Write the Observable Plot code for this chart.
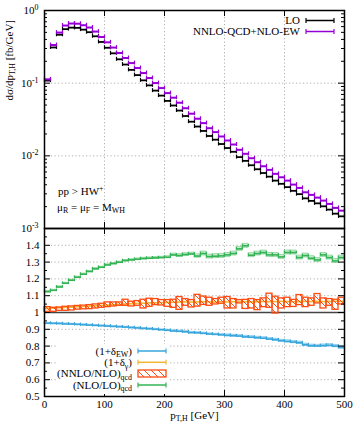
<!DOCTYPE html>
<html><head><meta charset="utf-8">
<script src="https://cdn.jsdelivr.net/npm/d3@7"></script>
<script src="https://cdn.jsdelivr.net/npm/@observablehq/plot@0.6"></script>
<style>
body{margin:0;background:#fff;}
#chart{position:relative;width:355px;height:424px;overflow:hidden;background:#fff;}
#chart svg{position:absolute;left:0;overflow:visible;}
</style></head><body><div id="chart"></div>
<script>
// ---------- data ----------
const binLo = [0,10,20,30,40,50,60,70,80,90,100,110,120,130,140,150,160,170,180,190,200,210,220,230,240,250,260,270,280,290,300,310,320,330,340,350,360,370,380,390,400,410,420,430,440,450,460,470,480,490];
const binHi = [10,20,30,40,50,60,70,80,90,100,110,120,130,140,150,160,170,180,190,200,210,220,230,240,250,260,270,280,290,300,310,320,330,340,350,360,370,380,390,400,410,420,430,440,450,460,470,480,490,500];
const loXs = [0.1085,0.310,0.464,0.554,0.581,0.577,0.545,0.503,0.442,0.369,
 0.307,0.2575,0.213,0.1805,0.1524,0.1292,0.1094,0.0933,0.0790,0.0674,
 0.0570,0.0493,0.0420,0.0353,0.0295,0.0253,0.0220,0.01875,0.01669,0.01454,
 0.0128,0.01137,0.0096,0.00853,0.00742,0.00654,0.0058,0.00517,0.00456,0.00412,
 0.00371,0.0033,0.00297,0.0026,0.0024,0.00222,0.00202,0.00182,0.0016,0.00147];
const nnloXs = [0.1128,0.335,0.497,0.621,0.662,0.658,0.627,0.583,0.513,0.432,
 0.365,0.309,0.260,0.222,0.189,0.1615,0.1378,0.1176,0.1003,0.0856,
 0.0730,0.0631,0.0538,0.0452,0.0380,0.0324,0.0282,0.0240,0.0212,0.01846,
 0.01626,0.01432,0.01210,0.01066,0.00927,0.00817,0.00719,0.00641,0.00565,0.00507,
 0.00456,0.00402,0.00362,0.00315,0.00290,0.00266,0.00242,0.00218,0.00192,0.00176];
const nloLo = [1.124,1.132,1.152,1.174,1.192,1.210,1.228,1.244,1.260,1.269,
 1.283,1.291,1.299,1.309,1.313,1.317,1.321,1.323,1.325,1.327,
 1.329,1.343,1.339,1.345,1.349,1.336,1.351,1.333,1.335,1.337,
 1.343,1.351,1.379,1.397,1.341,1.351,1.357,1.343,1.343,1.331,
 1.357,1.357,1.327,1.339,1.323,1.313,1.343,1.327,1.307,1.327];
const nloLoErr = [0.004,0.004,0.004,0.004,0.004,0.004,0.004,0.004,0.004,0.004,
 0.004,0.004,0.004,0.004,0.004,0.005,0.005,0.005,0.005,0.005,
 0.006,0.008,0.008,0.008,0.008,0.010,0.012,0.012,0.012,0.012,
 0.012,0.012,0.012,0.012,0.012,0.012,0.012,0.012,0.012,0.012,
 0.012,0.012,0.012,0.012,0.012,0.012,0.012,0.012,0.012,0.012];
const nnloNlo = [1.018,1.016,1.020,1.022,1.024,1.028,1.030,1.032,1.036,1.040,
 1.046,1.048,1.050,1.058,1.050,1.054,1.050,1.058,1.062,1.058,
 1.054,1.052,1.054,1.060,1.052,1.070,1.070,1.064,1.064,1.070,
 1.058,1.052,1.064,1.048,1.052,1.044,1.058,1.070,1.044,1.054,
 1.060,1.054,1.074,1.060,1.062,1.082,1.054,1.060,1.046,1.068];
const nnloNloErr = [0.014,0.012,0.010,0.012,0.012,0.011,0.011,0.012,0.012,0.012,
 0.014,0.012,0.010,0.018,0.014,0.014,0.026,0.024,0.018,0.016,
 0.020,0.024,0.038,0.020,0.022,0.035,0.025,0.024,0.016,0.018,
 0.034,0.028,0.010,0.027,0.028,0.030,0.026,0.042,0.050,0.030,
 0.028,0.021,0.030,0.028,0.022,0.028,0.030,0.020,0.030,0.020];
const deltaGamma = [1.024,1.026,1.028,1.030,1.032,1.034,1.036,1.038,1.040,1.042,
 1.044,1.046,1.048,1.050,1.052,1.054,1.055,1.057,1.058,1.059,
 1.060,1.061,1.062,1.063,1.062,1.063,1.064,1.063,1.062,1.064,
 1.063,1.064,1.065,1.064,1.063,1.064,1.065,1.064,1.065,1.066,
 1.065,1.064,1.065,1.066,1.065,1.066,1.065,1.066,1.067,1.066];
const deltaEW = [0.936,0.935,0.934,0.932,0.931,0.929,0.927,0.925,0.923,0.921,
 0.919,0.917,0.915,0.913,0.910,0.908,0.905,0.903,0.900,0.897,
 0.894,0.890,0.888,0.885,0.880,0.879,0.876,0.872,0.870,0.867,
 0.864,0.862,0.860,0.855,0.853,0.850,0.847,0.842,0.838,0.832,
 0.828,0.824,0.820,0.808,0.802,0.801,0.803,0.805,0.800,0.792];
const deltaEWErr = [0.003,0.003,0.003,0.003,0.003,0.003,0.003,0.003,0.003,0.003,
 0.003,0.003,0.003,0.003,0.003,0.003,0.003,0.003,0.003,0.003,
 0.004,0.004,0.004,0.004,0.004,0.004,0.004,0.004,0.004,0.004,
 0.006,0.006,0.006,0.006,0.006,0.006,0.006,0.006,0.006,0.006,
 0.007,0.007,0.007,0.007,0.007,0.007,0.007,0.007,0.007,0.007];

const xTicks = [0,100,200,300,400,500];
const xGrid = [100,200,300,400];
const yTopTicks = [1,0.1,0.01,0.001];
const yTopLabels = ["10^{0}","10^{-1}","10^{-2}","10^{-3}"];
const yTopGrid = [0.1,0.01];
const yTopMinor = [0.002,0.003,0.004,0.005,0.006,0.007,0.008,0.009,
 0.02,0.03,0.04,0.05,0.06,0.07,0.08,0.09,
 0.2,0.3,0.4,0.5,0.6,0.7,0.8,0.9];
const yBotTicks = [0.5,0.6,0.7,0.8,0.9,1.0,1.1,1.2,1.3,1.4];
const yBotLabels = ["0.5","0.6","0.7","0.8","0.9","1","1.1","1.2","1.3","1.4"];
const yBotGrid = [0.6,0.7,0.8,0.9,1.1,1.2,1.3,1.4];
const yBotMinor = [0.55,0.65,0.75,0.85,0.95,1.05,1.15,1.25,1.35,1.45];

const topSeries = ["LO","NNLO-QCD+NLO-EW"];
const botSeries = ["(1+δ_{EW})","(1+δ_{γ})","(NNLO/NLO)_{qcd}","(NLO/LO)_{qcd}"];
const yLabel = "dσ/dp_{T,H} [fb/GeV]";
const xLabel = "p_{T,H} [GeV]";
const notes = ["pp > HW^{+}","μ_{R} = μ_{F} = M_{WH}"];

// ---------- styling ----------
const C = {lo:"#000000", nnlo:"#9400d3", green:"#34b354", blue:"#3aa6dc", yellow:"#f2b632", orange:"#ff4b12", grid:"#b0b0b0"};
const W = 355, ML = 44, MR = 11, PW = W - ML - MR;
const FONT = "'Liberation Serif','Times New Roman',serif";
const dash = "1.2,2.3";

const rows = binLo.map((x0, i) => ({
  x0, x1: binHi[i], lo: loXs[i], nnlo: nnloXs[i],
  g: nloLo[i], ge: nloLoErr[i], o: nnloNlo[i], oe: nnloNloErr[i],
  yv: deltaGamma[i], b: deltaEW[i], be: deltaEWErr[i]
}));

function richText(sel, str, fs) {
  const re = /([_^])\{([^}]*)\}/g;
  let last = 0, m; const parts = [];
  while ((m = re.exec(str))) {
    if (m.index > last) parts.push({t: str.slice(last, m.index), k: 0});
    parts.push({t: m[2], k: m[1] === "^" ? 1 : -1});
    last = re.lastIndex;
  }
  if (last < str.length) parts.push({t: str.slice(last), k: 0});
  sel.text(null);
  let shift = 0;
  for (const p of parts) {
    const target = p.k === 1 ? -0.36 * fs : p.k === -1 ? 0.22 * fs : 0;
    const ts = sel.append("tspan").text(p.t);
    if (target - shift !== 0) ts.attr("dy", target - shift);
    if (p.k) ts.attr("font-size", fs * 0.72);
    shift = target;
  }
}
function richAll(svg) {
  d3.select(svg).selectAll("text").each(function() {
    const s = this.textContent;
    if (s.includes("_{") || s.includes("^{")) richText(d3.select(this), s, 11);
  });
}

// ---------- top panel ----------
const topH = 229, topMT = 10, topMB = 1, topPH = topH - topMT - topMB;
const capT = 1.065;
function errMarks(key, color, sw) {
  return [
    Plot.ruleY(rows, {y: key, x1: "x0", x2: "x1", stroke: color, strokeWidth: sw}),
    Plot.ruleX(rows, {x: "x0", y1: d => d[key] / capT, y2: d => d[key] * capT, stroke: color, strokeWidth: 1.2}),
    Plot.ruleX(rows, {x: "x1", y1: d => d[key] / capT, y2: d => d[key] * capT, stroke: color, strokeWidth: 1.2})
  ];
}
const topSvg = Plot.plot({
  width: W, height: topH, marginLeft: ML, marginRight: MR, marginTop: topMT, marginBottom: topMB,
  style: {fontFamily: FONT, fontSize: "11px", background: "transparent", color: "#000", overflow: "visible"},
  x: {domain: [0, 500], axis: null},
  y: {type: "log", domain: [1e-3, 1], axis: null},
  marks: [
    Plot.ruleX(xGrid, {x: d => d, stroke: C.grid, strokeDasharray: dash}),
    Plot.ruleY(yTopGrid, {y: d => d, stroke: C.grid, strokeDasharray: dash}),
    ...errMarks("lo", C.lo, 1.8),
    ...errMarks("nnlo", C.nnlo, 2),
    Plot.tickY(yTopTicks, {y: d => d, insetRight: PW - 6, stroke: "#000"}),
    Plot.tickY(yTopTicks, {y: d => d, insetLeft: PW - 6, stroke: "#000"}),
    Plot.tickY(yTopMinor, {y: d => d, insetRight: PW - 3, stroke: "#000"}),
    Plot.tickY(yTopMinor, {y: d => d, insetLeft: PW - 3, stroke: "#000"}),
    Plot.tickX(xTicks, {x: d => d, insetTop: topPH - 6, stroke: "#000"}),
    Plot.tickX(xTicks, {x: d => d, insetBottom: topPH - 6, stroke: "#000"}),
    Plot.frame({stroke: "#000", strokeWidth: 1.5}),
    Plot.text(yTopTicks, {y: d => d, text: (d, i) => yTopLabels[i], frameAnchor: "left", textAnchor: "end", dx: -6, fontSize: 11}),
    Plot.text([yLabel], {text: d => d, frameAnchor: "left", dx: -35, dy: -19, rotate: -90, fontSize: 11})
  ]
});
topSvg.style.top = "0px";

// legend (top)
function legendRow(g, tx, y, label, color, x1, x2, kind) {
  const t = g.append("text").attr("x", tx).attr("y", y).attr("dy", "0.35em")
    .attr("text-anchor", "end").attr("font-size", 11).text(label);
  richText(t, label, 11);
  if (kind === "box") {
    g.append("rect").attr("x", x1).attr("y", y - 3.5).attr("width", x2 - x1).attr("height", 7)
      .attr("fill", "url(#hatch)").attr("stroke", color).attr("stroke-width", 1.3);
  } else {
    g.append("line").attr("x1", x1).attr("x2", x2).attr("y1", y).attr("y2", y).attr("stroke", color).attr("stroke-width", 1.5);
    for (const x of [x1, x2]) g.append("line").attr("x1", x).attr("x2", x).attr("y1", y - 2.5).attr("y2", y + 2.5).attr("stroke", color).attr("stroke-width", 1.2);
  }
}
{
  const g = d3.select(topSvg).append("g");
  legendRow(g, 300, 20.5, topSeries[0], C.lo, 306, 334);
  legendRow(g, 300, 31.5, topSeries[1], C.nnlo, 306, 334);
  const n1 = g.append("text").attr("x", 58).attr("y", 191).attr("dy", "0.35em").attr("text-anchor", "start").attr("font-size", 11);
  richText(n1, notes[0], 11);
  const n2 = g.append("text").attr("x", 57).attr("y", 207).attr("dy", "0.35em").attr("text-anchor", "start").attr("font-size", 11);
  richText(n2, notes[1], 11);
}
richAll(topSvg);

// ---------- bottom panel ----------
const botH = 198, botMT = 2, botMB = 28, botPH = botH - botMT - botMB;
const capB = 0.008;
function ratioMarks(key, errKey, color, fillOp) {
  const m = [];
  if (errKey) m.push(Plot.rect(rows, {x1: "x0", x2: "x1", y1: d => d[key] - d[errKey], y2: d => d[key] + d[errKey], fill: color, fillOpacity: fillOp, stroke: color, strokeOpacity: 0.5, strokeWidth: 0.8}));
  m.push(Plot.ruleY(rows, {y: key, x1: "x0", x2: "x1", stroke: color, strokeWidth: 1.6}));
  m.push(Plot.ruleX(rows, {x: "x0", y1: d => d[key] - capB, y2: d => d[key] + capB, stroke: color, strokeWidth: 1.1}));
  m.push(Plot.ruleX(rows, {x: "x1", y1: d => d[key] - capB, y2: d => d[key] + capB, stroke: color, strokeWidth: 1.1}));
  return m;
}
const botSvg = Plot.plot({
  width: W, height: botH, marginLeft: ML, marginRight: MR, marginTop: botMT, marginBottom: botMB,
  style: {fontFamily: FONT, fontSize: "11px", background: "transparent", color: "#000", overflow: "visible"},
  x: {domain: [0, 500], axis: null},
  y: {domain: [0.5, 1.5], axis: null},
  marks: [
    Plot.ruleX(xGrid, {x: d => d, stroke: C.grid, strokeDasharray: dash}),
    Plot.ruleY(yBotGrid, {y: d => d, stroke: C.grid, strokeDasharray: dash}),
    Plot.ruleY([1], {y: d => d, stroke: "#444", strokeWidth: 1.6}),
    ...ratioMarks("b", "be", C.blue, 0.3),
    ...ratioMarks("yv", null, C.yellow, 0),
    Plot.rect(rows, {x1: "x0", x2: "x1", y1: d => d.o - d.oe, y2: d => d.o + d.oe, fill: "url(#hatch)", stroke: C.orange, strokeWidth: 1.3}),
    ...ratioMarks("g", "ge", C.green, 0.25),
    Plot.tickY(yBotTicks, {y: d => d, insetRight: PW - 6, stroke: "#000"}),
    Plot.tickY(yBotTicks, {y: d => d, insetLeft: PW - 6, stroke: "#000"}),
    Plot.tickY(yBotMinor, {y: d => d, insetRight: PW - 3, stroke: "#000"}),
    Plot.tickY(yBotMinor, {y: d => d, insetLeft: PW - 3, stroke: "#000"}),
    Plot.tickX(xTicks, {x: d => d, insetTop: botPH - 6, stroke: "#000"}),
    Plot.tickX(xTicks, {x: d => d, insetBottom: botPH - 6, stroke: "#000"}),
    Plot.frame({stroke: "#000", strokeWidth: 1.5}),
    Plot.text(yBotTicks, {y: d => d, text: (d, i) => yBotLabels[i], frameAnchor: "left", textAnchor: "end", dx: -5, fontSize: 11}),
    Plot.text(xTicks, {x: d => d, text: d => String(d), frameAnchor: "bottom", dy: 11, fontSize: 11}),
    Plot.text([xLabel], {text: d => d, frameAnchor: "bottom", dy: 22, fontSize: 11})
  ]
});
botSvg.style.top = "226px";
{
  const s = d3.select(botSvg);
  const defs = s.insert("defs", ":first-child");
  const p = defs.append("pattern").attr("id", "hatch").attr("patternUnits", "userSpaceOnUse").attr("width", 7).attr("height", 7);
  p.append("path").attr("d", "M-1,-1L8,8M-1,6L1,8M6,-1L8,1").attr("stroke", C.orange).attr("stroke-width", 1);
  const g = s.append("g");
  g.append("rect").attr("x", 58).attr("y", 118).attr("width", 112).attr("height", 50).attr("fill", "#fff");
  legendRow(g, 132, 125, botSeries[0], C.blue, 138, 166);
  legendRow(g, 132, 136.3, botSeries[1], C.yellow, 138, 166);
  legendRow(g, 132, 147.5, botSeries[2], C.orange, 138, 166, "box");
  legendRow(g, 132, 159, botSeries[3], C.green, 138, 166);
}
richAll(botSvg);

const chart = document.getElementById("chart");
chart.appendChild(botSvg);
chart.appendChild(topSvg);
</script></body></html>
